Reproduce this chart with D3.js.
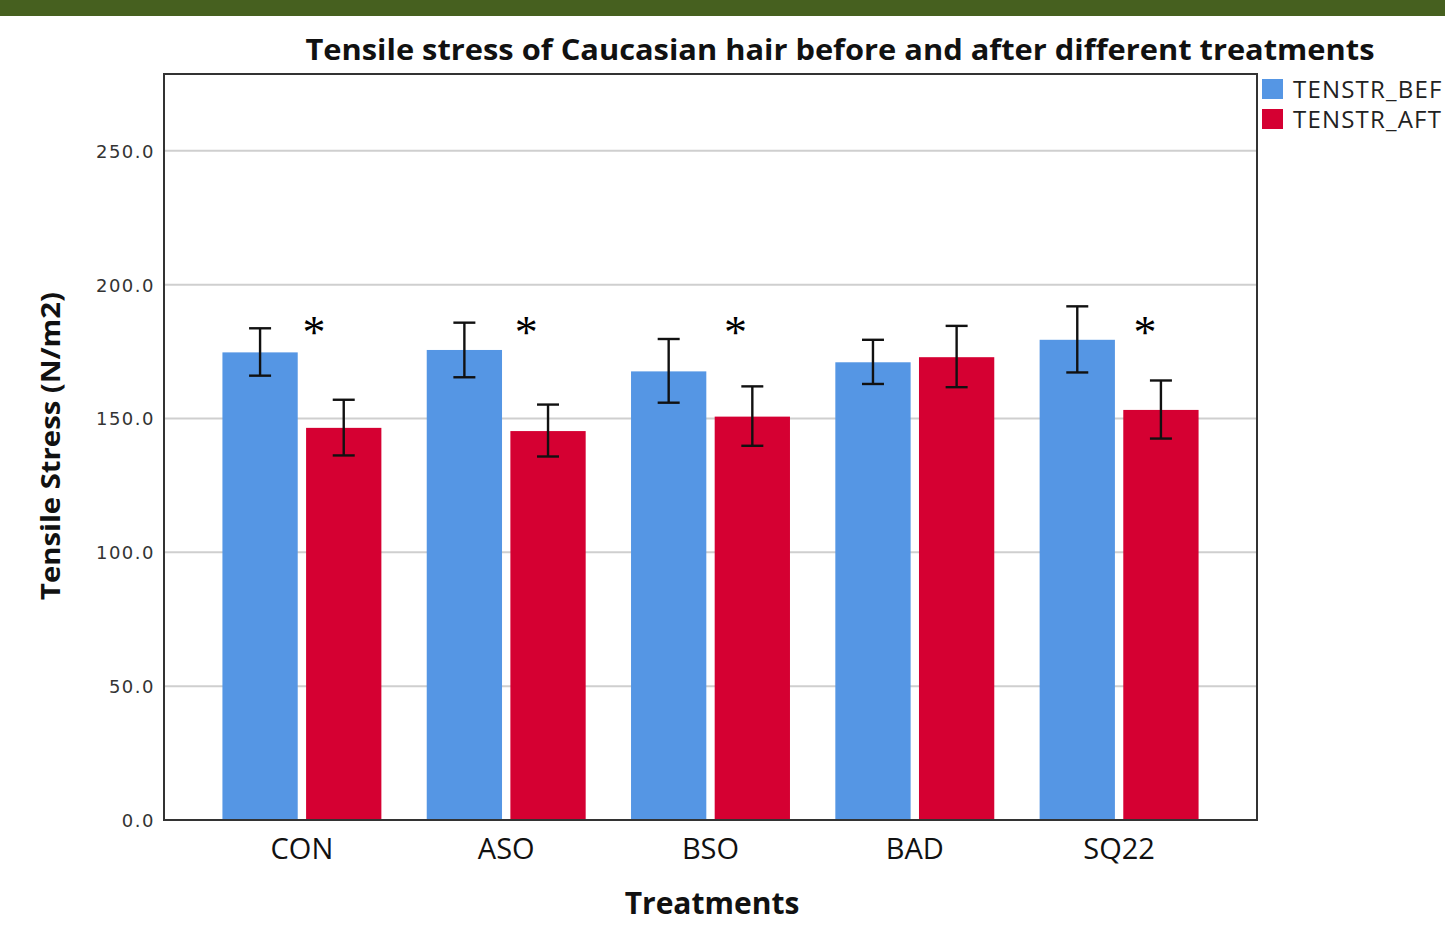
<!DOCTYPE html>
<html>
<head>
<meta charset="utf-8">
<script src="https://cdn.jsdelivr.net/npm/d3@7"></script>
<style>
  body { margin: 0; background: #fff; }
  svg { display: block; }
</style>
</head>
<body>
<svg id="chart"></svg>
<script>
// data
const treatments = ["CON", "ASO", "BSO", "BAD", "SQ22"];
const seriesNames = ["TENSTR_BEF", "TENSTR_AFT"];
const before = [174.7, 175.6, 167.6, 171.0, 179.4];
const beforeLow = [166.0, 165.4, 155.9, 162.9, 167.2];
const beforeHigh = [183.7, 185.8, 179.7, 179.4, 191.9];
const after = [146.5, 145.3, 150.7, 172.9, 153.2];
const afterLow = [136.2, 135.8, 139.8, 161.7, 142.5];
const afterHigh = [157.0, 155.2, 162.0, 184.6, 164.2];
const significant = [true, true, true, false, true];
const yTicks = [0, 50, 100, 150, 200, 250];

const width = 1445, height = 937;
const margin = { top: 74, right: 188, bottom: 117, left: 164 };
const colors = ["#5596e4", "#d50032"];
const starDx = [12, 20, 25, 0, 26]; // asterisks were hand placed

const svg = d3.select("#chart").attr("width", width).attr("height", height);

// green strip at the top
svg.append("rect")
    .attr("x", 0).attr("y", 0)
    .attr("width", width).attr("height", 16)
    .attr("fill", "#46601f");

const x0 = d3.scaleBand()
    .domain(treatments)
    .range([margin.left, width - margin.right])
    .paddingInner(0.222)
    .paddingOuter(0.286);

const x1 = d3.scaleBand()
    .domain(seriesNames)
    .range([0, x0.bandwidth()])
    .paddingInner(0.1);

const y = d3.scaleLinear()
    .domain([0, 278.7])
    .range([height - margin.bottom, margin.top]);

// gridlines
svg.append("g")
    .selectAll("line")
    .data(yTicks.slice(1))
    .enter().append("line")
    .attr("x1", margin.left).attr("x2", width - margin.right)
    .attr("y1", d => y(d)).attr("y2", d => y(d))
    .attr("stroke", "#cfcfcf")
    .attr("stroke-width", 2);

// y tick labels
svg.append("g")
    .selectAll("text")
    .data(yTicks)
    .enter().append("text")
    .attr("x", margin.left - 9)
    .attr("y", d => y(d) + 7)
    .attr("text-anchor", "end")
    .attr("font-family", "DejaVu Sans")
    .attr("font-size", 18)
    .attr("letter-spacing", 1.5)
    .attr("fill", "#333")
    .text(d => d.toFixed(1));

const rows = treatments.map((t, i) => ({
    t: t,
    vals: [
        { s: seriesNames[0], v: before[i], lo: beforeLow[i], hi: beforeHigh[i] },
        { s: seriesNames[1], v: after[i], lo: afterLow[i], hi: afterHigh[i] }
    ]
}));

const groups = svg.append("g")
    .selectAll("g")
    .data(rows)
    .enter().append("g")
    .attr("transform", d => `translate(${x0(d.t)},0)`);

groups.selectAll("rect")
    .data(d => d.vals)
    .enter().append("rect")
    .attr("x", d => x1(d.s))
    .attr("y", d => y(d.v))
    .attr("width", x1.bandwidth())
    .attr("height", d => y(0) - y(d.v))
    .attr("fill", (d, i) => colors[i]);

// error bars
const err = groups.selectAll("g.err")
    .data(d => d.vals)
    .enter().append("g")
    .attr("class", "err")
    .attr("stroke", "#111")
    .attr("stroke-width", 2.4);

const cap = 11;
err.append("line")
    .attr("x1", d => x1(d.s) + x1.bandwidth() / 2)
    .attr("x2", d => x1(d.s) + x1.bandwidth() / 2)
    .attr("y1", d => y(d.lo)).attr("y2", d => y(d.hi));
err.append("line")
    .attr("x1", d => x1(d.s) + x1.bandwidth() / 2 - cap)
    .attr("x2", d => x1(d.s) + x1.bandwidth() / 2 + cap)
    .attr("y1", d => y(d.hi)).attr("y2", d => y(d.hi));
err.append("line")
    .attr("x1", d => x1(d.s) + x1.bandwidth() / 2 - cap)
    .attr("x2", d => x1(d.s) + x1.bandwidth() / 2 + cap)
    .attr("y1", d => y(d.lo)).attr("y2", d => y(d.lo));

// significance marks
svg.append("g")
    .selectAll("text")
    .data(treatments.filter((t, i) => significant[i]))
    .enter().append("text")
    .attr("x", t => x0(t) + x0.bandwidth() / 2 + starDx[treatments.indexOf(t)])
    .attr("y", y(193) + 45)
    .attr("text-anchor", "middle")
    .attr("font-family", "Liberation Serif")
    .attr("font-size", 46)
    .attr("fill", "#000")
    .text("*");

// frame
svg.append("rect")
    .attr("x", margin.left).attr("y", margin.top)
    .attr("width", width - margin.right - margin.left)
    .attr("height", height - margin.bottom - margin.top)
    .attr("fill", "none")
    .attr("stroke", "#333")
    .attr("stroke-width", 2);

// x labels
svg.append("g")
    .selectAll("text")
    .data(treatments)
    .enter().append("text")
    .attr("x", d => x0(d) + x0.bandwidth() / 2)
    .attr("y", 859)
    .attr("text-anchor", "middle")
    .attr("font-family", "Open Sans")
    .attr("font-size", 29)
    .attr("fill", "#111")
    .text(d => d);

// titles
svg.append("text")
    .attr("x", 840).attr("y", 60)
    .attr("text-anchor", "middle")
    .attr("font-family", "Open Sans")
    .attr("font-weight", "bold")
    .attr("font-size", 28)
    .attr("textLength", 1069)
    .attr("lengthAdjust", "spacingAndGlyphs")
    .attr("fill", "#111")
    .text("Tensile stress of Caucasian hair before and after different treatments");

svg.append("text")
    .attr("x", 712).attr("y", 914)
    .attr("text-anchor", "middle")
    .attr("font-family", "Open Sans")
    .attr("font-weight", "bold")
    .attr("font-size", 30)
    .attr("fill", "#111")
    .text("Treatments");

svg.append("text")
    .attr("transform", "translate(60,446) rotate(-90)")
    .attr("text-anchor", "middle")
    .attr("font-family", "Open Sans")
    .attr("font-weight", "bold")
    .attr("font-size", 27)
    .attr("textLength", 308)
    .attr("lengthAdjust", "spacingAndGlyphs")
    .attr("fill", "#111")
    .text("Tensile Stress (N/m2)");

// legend
const legend = svg.append("g")
    .selectAll("g")
    .data(seriesNames)
    .enter().append("g")
    .attr("transform", (d, i) => `translate(1262,${79 + i * 30})`);
legend.append("rect")
    .attr("width", 21).attr("height", 20)
    .attr("fill", (d, i) => colors[i]);
legend.append("text")
    .attr("x", 31).attr("y", 19)
    .attr("font-family", "Open Sans")
    .attr("font-size", 24)
    .attr("letter-spacing", 1.2)
    .attr("fill", "#222")
    .text(d => d);
</script>
</body>
</html>
